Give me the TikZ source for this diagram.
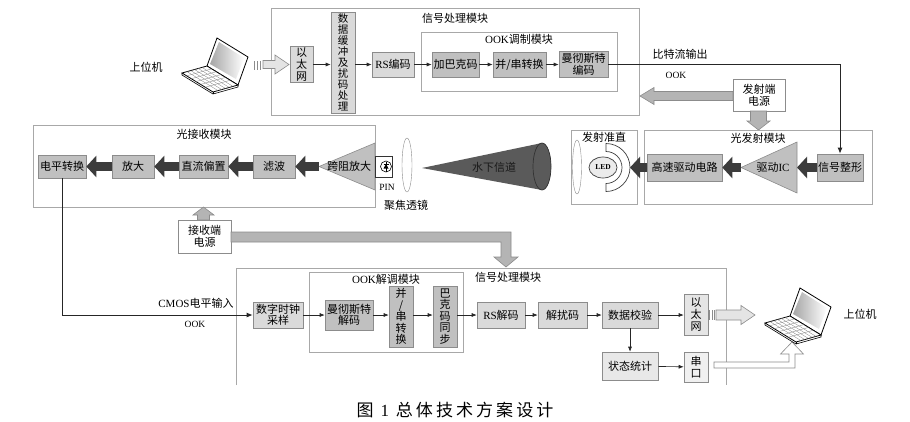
\documentclass[tikz,border=0pt]{standalone}
\usepackage{fontspec}
\setmainfont{Noto Sans CJK SC}
\newfontfamily\lat{Liberation Serif}
\usetikzlibrary{positioning}
\usetikzlibrary{arrows.meta}
\usetikzlibrary{shapes.geometric}
\usetikzlibrary{calc}

\definecolor{boxlight}{HTML}{DADADA}
\definecolor{boxdark}{HTML}{C0C0C0}
\definecolor{edge}{HTML}{8C8C8C}
\definecolor{framegray}{HTML}{A8A8A8}
\definecolor{fatgray}{HTML}{3C3C3C}
\definecolor{pwrgray}{HTML}{B4B4B4}
\definecolor{hollow}{HTML}{E4E4E4}
\definecolor{conegray}{HTML}{5A5A5A}

% laptop icon, #1 = top left corner
\newcommand{\laptop}[1]{%
  \begin{scope}[shift={#1}]
    \filldraw[draw=black, fill=white, line width=0.8pt] (25,28) -- (35,0) -- (66,19) -- (56,47) -- cycle;
    \shade[left color=gray!70, right color=white] (28,26) -- (37,4) -- (62,20) -- (54,41) -- cycle;
    \filldraw[draw=black, fill=white, line width=0.8pt] (25,28) -- (56,47) -- (31,54) -- (0,35) -- cycle;
    \draw[black, line width=0.6pt] (0,35) -- (0,37) -- (31,56) -- (56,49) -- (56,47);
    \draw[black, line width=0.6pt] (31,54) -- (31,56);
    \foreach \t in {0.2,0.35,0.5,0.65,0.8}
      \draw[gray, line width=0.3pt] ($(25,28)!\t!(0,35)$) -- ($(56,47)!\t!(31,54)$);
    \foreach \t in {0.15,0.3,...,0.9}
      \draw[gray, line width=0.3pt] ($(25,28)!\t!(56,47)$) -- ($(0,35)!\t!(31,54)$);
  \end{scope}}

\begin{document}
\begin{tikzpicture}[x=1pt, y=-1pt,
    box/.style={draw=edge, fill=boxlight, line width=0.6pt, inner sep=1pt, align=center, font=\fontsize{11}{12}\selectfont},
    dbox/.style={box, fill=boxdark},
    pbox/.style={box, fill=white},
    frame/.style={draw=framegray, line width=0.8pt, inner sep=0pt},
    lbl/.style={font=\fontsize{11}{12}\selectfont, inner sep=1pt},
    flow/.style={draw=black!85, line width=0.6pt, -{Latex[length=5pt,width=4pt]}},
    link/.style={draw=black!85, line width=1pt},
    fat/.style={draw=fatgray, line width=9pt, -{Triangle[length=10pt,width=21pt]}},
    tri/.style={draw=edge, fill=boxdark, line width=0.6pt},
    parrow/.style={draw=edge, fill=pwrgray, line width=0.6pt},
    harrow/.style={draw=edge, fill=hollow, line width=0.6pt}]

  \useasboundingbox[fill=white] (0,0) rectangle (910,421);

  % ---- transmit side signal processing
  \node[frame, minimum width=368pt, minimum height=107pt] (sp1) at (455,61.5) {};
  \node[lbl, below=4pt of sp1.north] {信号处理模块};
  \node[frame, minimum width=196pt, minimum height=59pt] (mod) at (519,61.5) {};
  \node[lbl, below=1.5pt of mod.north] {{\lat OOK}调制模块};

  \node[box, minimum width=23pt, minimum height=36pt] (eth1) at (301.5,64.5) {以\\太\\网};
  \node[box, minimum width=24pt, minimum height=101pt, font=\fontsize{10.5}{11}\selectfont] (buf) at (343,62.5) {数\\据\\缓\\冲\\及\\扰\\码\\处\\理};
  \node[box, minimum width=42pt, minimum height=25pt] (rs) at (393,64.5) {{\lat RS}编码};
  \node[dbox, minimum width=47pt, minimum height=25pt] (bark) at (455.5,64.5) {加巴克码};
  \node[dbox, minimum width=53pt, minimum height=25pt] (ps) at (519.5,64.5) {并/串转换};
  \node[dbox, minimum width=49pt, minimum height=26pt, font=\fontsize{11}{11.5}\selectfont] (man) at (583.5,64.5) {曼彻斯特\\编码};

  \draw[flow] (eth1) -- (eth1 -| buf.west);
  \draw[flow] (rs -| buf.east) -- (rs);
  \draw[flow] (rs) -- (bark);
  \draw[flow] (bark) -- (ps);
  \draw[flow] (ps) -- (man);

  \laptop{(182,38)}
  \node[lbl] (pc1) at (146,67) {上位机};
  \foreach \s in {254,257,260}
    \fill[edge] (\s,60.5) rectangle +(1.4,9);
  \filldraw[harrow] (263,60.5) -- (275,60.5) -- (275,55) -- (289,64.5) -- (275,74) -- (275,68.5) -- (263,68.5) -- cycle;

  % ---- optical transmitter
  \node[pbox, minimum width=52pt, minimum height=32pt] (pwrT) at (759,95) {发射端\\电源};
  \filldraw[parrow] (733,91.5) -- (654,91.5) -- (654,87.5) -- (640,96) -- (654,104.5) -- (654,100.5) -- (733,100.5) -- cycle;
  \filldraw[parrow] (750.5,111) -- (750.5,121) -- (747,121) -- (758.5,130) -- (770,121) -- (766.5,121) -- (766.5,111) -- cycle;

  \node[frame, minimum width=228pt, minimum height=74pt] (txm) at (758,167) {};
  \node[lbl, below=2.5pt of txm.north] {光发射模块};
  \node[frame, minimum width=66pt, minimum height=74pt] (col) at (604,167) {};
  \node[lbl, below=1pt of col.north] {发射准直};

  \node[dbox, minimum width=46pt, minimum height=27pt] (sig) at (840,167.5) {信号整形};
  \filldraw[tri] (741,167.5) -- (797,142) -- (797,193) -- cycle;
  \coordinate (drvT) at (741,167.5);
  \coordinate (drvB) at (797,167.5);
  \node[lbl] (drv) at (773,167.5) {驱动{\lat IC}};
  \node[dbox, minimum width=75pt, minimum height=27pt] (hs) at (684.5,167.5) {高速驱动电路};

  \filldraw[draw=black!75, fill=white, line width=0.7pt] (606,143.5) arc[start angle=-90, end angle=90, radius=24] -- (606,183.5) arc[start angle=90, end angle=-90, radius=16] -- cycle;
  \coordinate (ring) at (630,167.5);
  \node[ellipse, draw=black!75, fill=black!8, line width=0.7pt, minimum width=28pt, minimum height=21pt, inner sep=0pt, font=\lat\bfseries\fontsize{7.5}{8}\selectfont] (led) at (603,167.5) {LED};
  \node[ellipse, draw=edge, fill=white, minimum width=9pt, minimum height=54pt, inner sep=0pt] (lens2) at (577,167) {};

  \draw[link, -{Latex[length=6pt,width=5pt]}] (man.east) -| (sig.north);
  \node[lbl] (bits) at (680,54) {比特流输出};
  \node[lbl, font=\lat\fontsize{9.5}{10}\selectfont] (ook1) at (676,75) {OOK};

  \draw[fat] (sig) -- (drvB);
  \draw[fat] (drvT) -- (hs);
  \draw[fat] (hs) -- (ring);

  % ---- channel
  \fill[conegray] (422,168) -- (542,143) arc[start angle=-90, end angle=90, x radius=9, y radius=23.5] -- cycle;
  \draw[black!80, fill=conegray, line width=0.7pt] (542,166.5) ellipse [x radius=9, y radius=23.5];
  \node[lbl, text=black!90] (water) at (494,167) {水下信道};
  \node[ellipse, draw=edge, fill=white, minimum width=10pt, minimum height=54pt, inner sep=0pt] (lens1) at (407,165) {};
  \node[lbl] at (406,205) {聚焦透镜};

  % ---- optical receiver
  \node[frame, minimum width=342pt, minimum height=82pt] (rxm) at (204,166) {};
  \node[lbl, below=3pt of rxm.north] {光接收模块};
  \node[dbox, minimum width=48pt, minimum height=23pt] (lvl) at (62,166.5) {电平转换};
  \node[dbox, minimum width=42pt, minimum height=23pt] (amp) at (133,166.5) {放大};
  \node[dbox, minimum width=49pt, minimum height=23pt] (dc) at (203.5,166.5) {直流偏置};
  \node[dbox, minimum width=42pt, minimum height=23pt] (flt) at (274,166.5) {滤波};
  \filldraw[tri] (319,166.5) -- (375,143) -- (375,190) -- cycle;
  \coordinate (tiaT) at (319,166.5);
  \node[lbl] (tia) at (349,166) {跨阻放大};
  \draw[black!80, line width=0.5pt] (375,156) rectangle (392,177);
  \filldraw[draw=black, fill=white, line width=0.6pt] (386,166.5) circle (5.5);
  \draw[black, line width=0.6pt] (386,161.5) -- (386,171.5);
  \fill[black] (386,164) -- (383.5,168.5) -- (388.5,168.5) -- cycle;
  \draw[black, line width=0.6pt] (383.5,164) -- (388.5,164);
  \node[lbl, font=\lat\fontsize{9.5}{10}\selectfont] (pin) at (387,187) {PIN};

  \draw[fat] (tiaT) -- (flt);
  \draw[fat] (flt) -- (dc);
  \draw[fat] (dc) -- (amp);
  \draw[fat] (amp) -- (lvl);

  \node[pbox, minimum width=53pt, minimum height=33pt] (pwrR) at (204.5,236.5) {接收端\\电源};
  \filldraw[parrow] (197.5,220) -- (197.5,215) -- (193,215) -- (203.5,207) -- (214,215) -- (209.5,215) -- (209.5,220) -- cycle;
  \filldraw[parrow] (231,232) -- (511,232) -- (511,257) -- (518,257) -- (506,267) -- (494,257) -- (501,257) -- (501,242) -- (231,242) -- cycle;

  % ---- receive side signal processing
  \draw[frame] (236,385) -- (236,268) -- (726,268) -- (726,385);
  \node[lbl] at (508,277) {信号处理模块};
  \node[frame, minimum width=154pt, minimum height=80pt] (demod) at (386,312) {};
  \node[lbl, below=1.5pt of demod.north] {{\lat OOK}解调模块};

  \node[box, minimum width=50pt, minimum height=26pt, font=\fontsize{11}{11.5}\selectfont] (clk) at (278,315) {数字时钟\\采样};
  \node[dbox, minimum width=48pt, minimum height=30pt, font=\fontsize{11}{11.5}\selectfont] (mand) at (349,315) {曼彻斯特\\解码};
  \node[dbox, minimum width=24pt, minimum height=61pt, font=\fontsize{11}{11.5}\selectfont] (ps2) at (401,316.5) {并\\/\\串\\转\\换};
  \node[dbox, minimum width=24pt, minimum height=61pt, font=\fontsize{11}{11.5}\selectfont] (bsync) at (445,316.5) {巴\\克\\码\\同\\步};
  \node[box, minimum width=48pt, minimum height=26pt] (rsd) at (501,315) {{\lat RS}解码};
  \node[box, minimum width=49pt, minimum height=26pt] (dsc) at (562.5,315) {解扰码};
  \node[box, minimum width=56pt, minimum height=26pt] (chk) at (630,315) {数据校验};
  \node[box, minimum width=24pt, minimum height=41pt, fill=black!10] (eth2) at (696,315) {以\\太\\网};
  \node[box, minimum width=56pt, minimum height=28pt, fill=black!9] (stat) at (630,366) {状态统计};
  \node[box, minimum width=24pt, minimum height=30pt, fill=black!6] (ser) at (696,367) {串\\口};

  \draw[link, -{Latex[length=6pt,width=5pt]}] (lvl.south) |- (clk.west);
  \node[lbl] (cmos) at (196,303) {{\lat CMOS}电平输入};
  \node[lbl, font=\lat\fontsize{9.5}{10}\selectfont] (ook2) at (195,324) {OOK};

  \draw[flow] (clk) -- (mand);
  \draw[flow] (mand) -- (mand -| ps2.west);
  \draw[flow] (ps2.east |- clk) -- (bsync.west |- clk);
  \draw[flow] (bsync.east |- rsd) -- (rsd);
  \draw[flow] (rsd) -- (dsc);
  \draw[flow] (dsc) -- (chk);
  \draw[flow] (chk) -- (eth2);
  \draw[flow] (chk) -- (stat);
  \draw[flow] (stat) -- (ser);

  \foreach \s in {709,711.5,714}
    \fill[edge] (\s,310) rectangle +(1.2,10);
  \filldraw[harrow] (716,310) -- (741,310) -- (741,305.5) -- (755,315) -- (741,324.5) -- (741,320) -- (716,320) -- cycle;
  \filldraw[harrow, fill=white] (714,362) -- (789,362) -- (789,354) -- (780.5,354) -- (792,342) -- (803.5,354) -- (795,354) -- (795,368) -- (714,368) -- cycle;

  \laptop{(765,288)}
  \node[lbl] (pc2) at (860,314) {上位机};

  \node[font=\fontsize{17}{20}\selectfont\addfontfeature{LetterSpace=18}] (cap) at (455,410) {图 {\lat 1} 总体技术方案设计};
\end{tikzpicture}
\end{document}
